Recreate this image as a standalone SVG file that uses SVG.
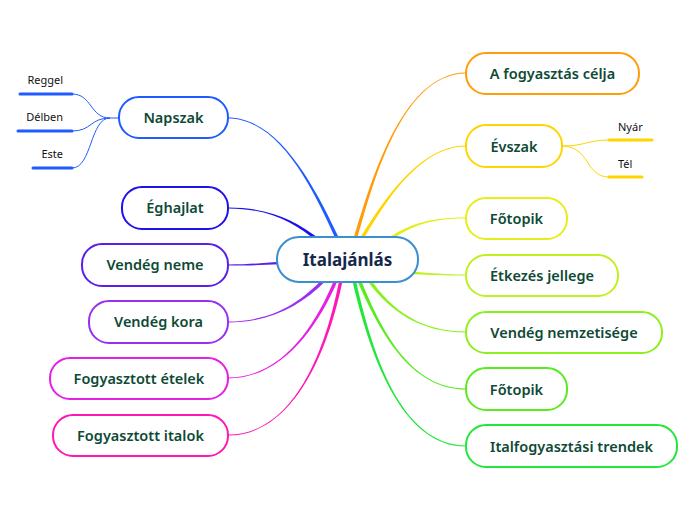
<svg xmlns="http://www.w3.org/2000/svg" width="696" height="520" viewBox="0 0 696 520">
<style>
.node rect{fill:#fff;stroke-width:2}
.node text{font-family:"Noto Sans","Open Sans",sans-serif;font-size:14.5px;font-weight:600;fill:#0e4a36;text-anchor:middle}
.sub{font-family:"Noto Sans","Open Sans",sans-serif;font-size:11px;fill:#111}
.ul{stroke-width:3;stroke-linecap:round;fill:none}
.thin{fill:none;stroke-width:1}
</style>
<rect width="696" height="520" fill="#fff"/>
<g id="connectors">
<path fill="#1f5bff" d="M228,117.5 C280,117.5 316.1,189.5 339.6,239.3 L336.4,240.7 C313.9,190.5 280,118.5 228,118.5Z"/>
<path fill="#1e12e8" d="M228,207.5 C270,207.5 295.7,221.1 319.1,238.6 L316.9,241.4 C294.3,222.9 270,208.5 228,208.5Z"/>
<path fill="#5a20e8" d="M228,264.5 C250,264.5 262,263 280,261.8 L280,264.2 C262,265 250,265.5 228,265.5Z"/>
<path fill="#9a2ff0" d="M228,321.5 C270,321.5 299.1,304.2 322.7,278.8 L325.3,281.2 C300.9,305.8 270,322.5 228,322.5Z"/>
<path fill="#e51fe6" d="M228,377.5 C280,377.5 313.9,329.5 334.4,279.3 L337.6,280.7 C316.1,330.5 280,378.5 228,378.5Z"/>
<path fill="#ff17b5" d="M228,434.5 C290,434.5 323.8,359.8 339.3,279.7 L342.7,280.3 C326.2,360.2 290,435.5 228,435.5Z"/>
<path fill="#ff9c0a" d="M466,73.5 C400,73.5 371.2,190.3 356.7,240.5 L353.3,239.5 C368.8,189.7 400,72.5 466,72.5Z"/>
<path fill="#ffd500" d="M466,146.5 C420,146.5 386,200.6 362.5,240.9 L359.5,239.1 C384,199.4 420,145.5 466,145.5Z"/>
<path fill="#e4ef1a" d="M466,218.5 C430,218.5 410.7,226 391,240.4 L389,237.6 C409.3,224 430,217.5 466,217.5Z"/>
<path fill="#c0f020" d="M466,275.5 C445,275.5 430,275 414,274.2 L414,271.8 C430,273 445,274.5 466,274.5Z"/>
<path fill="#8cf01e" d="M466,332.5 C420,332.5 389,310.7 367.6,281 L370.4,279 C391,309.3 420,331.5 466,331.5Z"/>
<path fill="#5aeb1e" d="M466,389.5 C410,389.5 378.9,330.5 357.4,280.7 L360.6,279.3 C381.1,329.5 410,388.5 466,388.5Z"/>
<path fill="#22e63a" d="M466,446.5 C400,446.5 368.8,350.3 352.3,280.4 L355.7,279.6 C371.2,349.7 400,445.5 466,445.5Z"/>
<g stroke="#1f5bff">
<path class="thin" d="M119,118 L110,118 C90,118 92,94 72,94"/>
<path class="thin" d="M110,118 C90,118 92,131 72,131"/>
<path class="thin" d="M110,118 C90,118 92,168 72,168"/>
</g>
<g stroke="#ffd500">
<path class="thin" d="M562,146 C585,146 588,140 609,140"/>
<path class="thin" d="M562,146 C590,146 585,177 609,177"/>
</g>
</g>
<g id="center" class="node">
<rect x="277" y="237" width="141" height="45" rx="22" stroke="#3a8fd0" style="stroke-width:2"/>
<text x="347.5" y="265.5" style="font-size:17px;font-weight:700;fill:#14284b">Italajánlás</text>
</g>
<g id="napszak" class="node">
<rect x="119" y="97" width="109" height="41" rx="20" stroke="#1f5bff"/>
<text x="173.5" y="123">Napszak</text>
</g>
<g id="reggel"><text class="sub" x="63" y="84" text-anchor="end">Reggel</text><line class="ul" stroke="#1f5bff" x1="20" y1="94" x2="72" y2="94"/></g>
<g id="delben"><text class="sub" x="63" y="121" text-anchor="end">Délben</text><line class="ul" stroke="#1f5bff" x1="18" y1="131" x2="72" y2="131"/></g>
<g id="este"><text class="sub" x="63" y="158" text-anchor="end">Este</text><line class="ul" stroke="#1f5bff" x1="33" y1="168" x2="72" y2="168"/></g>
<g id="eghajlat" class="node">
<rect x="122" y="187" width="106" height="42" rx="20" stroke="#1e12e8"/>
<text x="175" y="213">Éghajlat</text>
</g>
<g id="vendeg-neme" class="node">
<rect x="82" y="244" width="146" height="42" rx="20" stroke="#5a20e8"/>
<text x="155" y="270">Vendég neme</text>
</g>
<g id="vendeg-kora" class="node">
<rect x="89" y="301" width="139" height="42" rx="20" stroke="#9a2ff0"/>
<text x="158.5" y="327">Vendég kora</text>
</g>
<g id="fogy-etelek" class="node">
<rect x="50" y="358" width="178" height="41" rx="20" stroke="#e51fe6"/>
<text x="139" y="384">Fogyasztott ételek</text>
</g>
<g id="fogy-italok" class="node">
<rect x="53" y="415" width="175" height="41" rx="20" stroke="#ff17b5"/>
<text x="140.5" y="441">Fogyasztott italok</text>
</g>
<g id="celja" class="node">
<rect x="466" y="53" width="173" height="41" rx="20" stroke="#ff9c0a"/>
<text x="552.5" y="79">A fogyasztás célja</text>
</g>
<g id="evszak" class="node">
<rect x="466" y="125" width="96" height="42" rx="20" stroke="#ffd500"/>
<text x="514" y="152">Évszak</text>
</g>
<g id="nyar"><text class="sub" x="618" y="131">Nyár</text><line class="ul" stroke="#ffd500" x1="609" y1="140" x2="652" y2="140"/></g>
<g id="tel"><text class="sub" x="618" y="168">Tél</text><line class="ul" stroke="#ffd500" x1="609" y1="177" x2="642" y2="177"/></g>
<g id="fotopik1" class="node">
<rect x="466" y="198" width="101" height="41" rx="20" stroke="#e4ef1a"/>
<text x="516.5" y="224">Főtopik</text>
</g>
<g id="etkezes" class="node">
<rect x="466" y="255" width="152" height="41" rx="20" stroke="#c0f020"/>
<text x="542" y="281">Étkezés jellege</text>
</g>
<g id="nemzetiseg" class="node">
<rect x="466" y="312" width="196" height="41" rx="20" stroke="#8cf01e"/>
<text x="564" y="338">Vendég nemzetisége</text>
</g>
<g id="fotopik2" class="node">
<rect x="466" y="368" width="101" height="42" rx="20" stroke="#5aeb1e"/>
<text x="516.5" y="395">Főtopik</text>
</g>
<g id="trendek" class="node">
<rect x="466" y="425" width="211" height="42" rx="20" stroke="#22e63a"/>
<text x="571.5" y="452">Italfogyasztási trendek</text>
</g>
</svg>
